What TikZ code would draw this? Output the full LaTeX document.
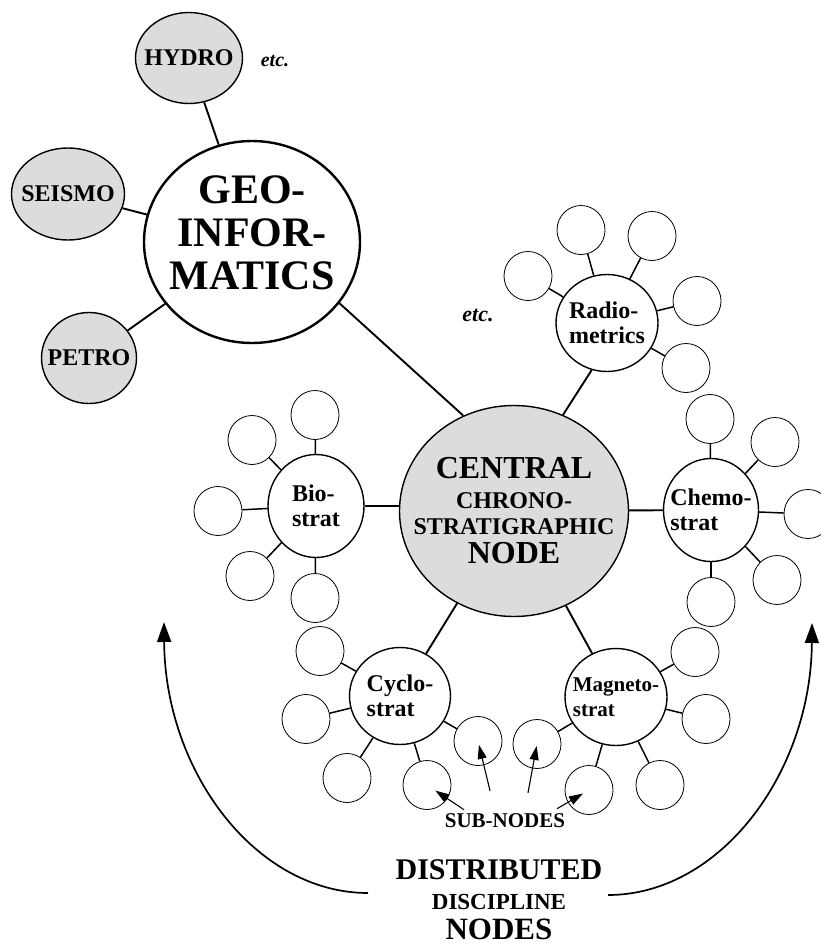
\documentclass[tikz,border=0pt]{standalone}
\usepackage{fontspec}
\setmainfont{Liberation Serif}
\usepackage{tikz}
\usetikzlibrary{shapes.geometric, arrows.meta}
\definecolor{nodegray}{RGB}{220, 220, 220}
\newcommand{\setfs}[2]{\fontsize{#1}{#2}\selectfont}

\begin{document}
\begin{tikzpicture}[x=1pt, y=-1pt,
  disc/.style = {ellipse, draw, line width=1.4pt, fill=nodegray, inner xsep=-15pt, inner ysep=0pt, align=center, font=\bfseries\setfs{24}{26}},
  hub/.style = {ellipse, draw, line width=1.4pt, fill=white, inner xsep=-10pt, inner ysep=0pt, align=left, font=\bfseries\setfs{24}{25.5}},
  sub/.style = {ellipse, draw, line width=0.8pt, minimum width=48pt, minimum height=49pt},
  caption/.style = {inner sep=0pt, font=\bfseries},
  link/.style = {line width=1.9pt},
  sublink/.style = {line width=1.5pt},
  pointer/.style = {line width=1.1pt, -{Triangle[length=14pt, width=9pt]}},
  bigarrow/.style = {line width=1.7pt, -{Triangle[length=20pt, width=14pt]}}]
\useasboundingbox (0,0) rectangle (821,946);

\node[disc, fill=white, line width=2.4pt, minimum width=216pt, minimum height=202pt, text depth=18pt, font=\bfseries\setfs{42}{43}] (geo) at (252,242) {GEO-\\INFOR-\\MATICS};
\node[disc, minimum width=107pt, minimum height=91pt] (hydro) at (189,58) {HYDRO};
\node[disc, minimum width=113pt, minimum height=92pt] (seismo) at (68,194) {SEISMO};
\node[disc, minimum width=95pt, minimum height=91pt] (petro) at (89,358) {PETRO};
\node[caption, font=\bfseries\itshape\setfs{20}{22}] (etcgeo) at (275,61) {etc.};

\node[disc, inner xsep=-30pt, minimum width=229pt, minimum height=211pt] (central) at (514,511)
  {\setfs{32}{26}CENTRAL\\[4pt]\setfs{24}{26}CHRONO-\\\setfs{24}{26}STRATIGRAPHIC\\[3pt]\setfs{32}{26}NODE};

\node[hub, minimum width=102pt, minimum height=97pt] (radio) at (607,323) {Radio-\\metrics};
\node[hub, minimum width=95pt, minimum height=103pt] (chemo) at (711,510) {Chemo-\\strat};
\node[hub, minimum width=96pt, minimum height=103pt] (bio) at (316,506) {Bio-\\strat};
\node[hub, minimum width=101pt, minimum height=97pt] (cyclo) at (400,696) {Cyclo-\\strat};
\node[hub, minimum width=102pt, minimum height=97pt, font=\bfseries\setfs{21}{25}] (magneto) at (616,697) {Magneto-\\strat};
\node[caption, font=\bfseries\itshape\setfs{22}{24}] (etcradio) at (478,315) {etc.};

\foreach \n/\x/\y in {1/528/276, 2/581/230, 3/652/236, 4/697/301, 5/686/368}
  {\node[sub] (radio\n) at (\x,\y) {}; \draw[sublink] (radio) -- (radio\n);}
\foreach \n/\x/\y in {1/710/419, 2/775/442, 3/808/514, 4/777/580, 5/711/602}
  {\node[sub] (chemo\n) at (\x,\y) {}; \draw[sublink] (chemo) -- (chemo\n);}
\foreach \n/\x/\y in {1/315/415, 2/252/440, 3/218/511, 4/250/576, 5/315/598}
  {\node[sub] (bio\n) at (\x,\y) {}; \draw[sublink] (bio) -- (bio\n);}
\foreach \n/\x/\y in {1/320/651, 2/306/719, 3/347/778, 4/427/785, 5/478/741}
  {\node[sub] (cyclo\n) at (\x,\y) {}; \draw[sublink] (cyclo) -- (cyclo\n);}
\foreach \n/\x/\y in {1/695/652, 2/706/719, 3/660/785, 4/589/790, 5/537/744}
  {\node[sub] (magneto\n) at (\x,\y) {}; \draw[sublink] (magneto) -- (magneto\n);}

\draw[link] (hydro) -- (geo);
\draw[link] (seismo) -- (geo);
\draw[link] (petro) -- (geo);
\draw[link] (geo.-35) -- (central.118);
\draw[link] (central.63) -- (radio.-108);
\draw[link] (central) -- (chemo);
\draw[link] (bio.east) -- (bio.east -| central.west);
\draw[link] (central) -- (cyclo);
\draw[link] (central) -- (magneto);

\node[caption, font=\bfseries\setfs{21}{22}] (subs) at (505,821) {SUB-NODES};
\draw[pointer, shorten >=10pt] ([xshift=-41pt, yshift=4pt]subs.north) -- (cyclo4.center);
\draw[pointer, shorten >=4pt] ([xshift=-15pt, yshift=23pt]subs.north) -- (cyclo5.center);
\draw[pointer, shorten >=2pt] ([xshift=23pt, yshift=21pt]subs.north) -- (magneto5.center);
\draw[pointer, shorten >=7pt] ([xshift=52pt, yshift=5pt]subs.north) -- (magneto4.center);

\node[caption, align=center, font=\bfseries\setfs{30}{30}] (dist) at (499,900)
  {\setfs{30}{30}DISTRIBUTED\\\setfs{23}{30}DISCIPLINE\\\setfs{31}{30}NODES};
\coordinate (lstart) at (368,893);
\coordinate (ltip) at (164,622);
\draw[bigarrow] (lstart) .. controls (256,893) and (165,772) .. (ltip);
\coordinate (rstart) at (608,895);
\coordinate (rtip) at (812,623);
\draw[bigarrow] (rstart) .. controls (720,895) and (811,773) .. (rtip);
\end{tikzpicture}
\end{document}
